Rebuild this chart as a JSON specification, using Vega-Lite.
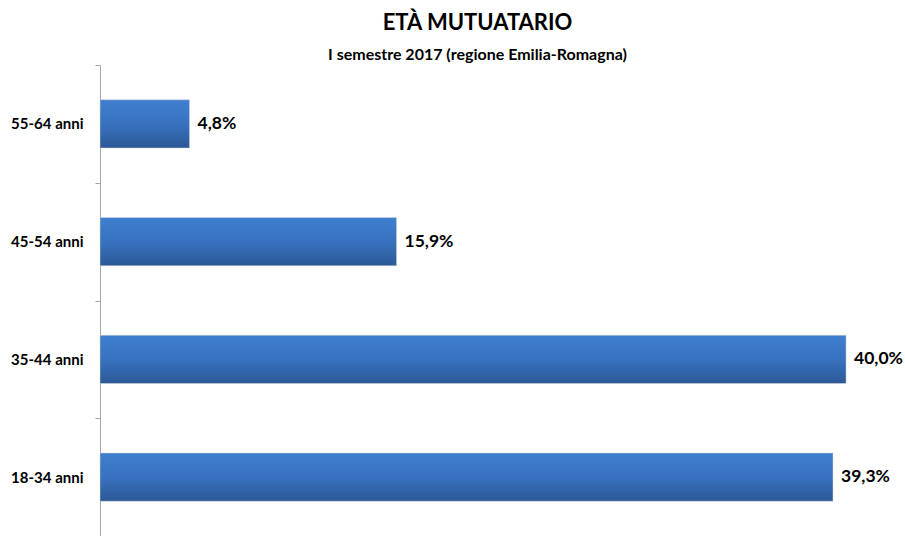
{
  "$schema": "https://vega.github.io/schema/vega-lite/v6.json",
  "autosize": "none",
  "width": 805,
  "height": 471,
  "padding": {"left": 100, "top": 65, "right": 0, "bottom": 0},
  "background": "white",
  "config": {
    "view": {"stroke": null},
    "locale": {"number": {"decimal": ",", "thousands": ".", "grouping": [3], "currency": ["€", ""]}}
  },
  "title": {
    "text": "ETÀ MUTUATARIO",
    "subtitle": "I semestre 2017 (regione Emilia-Romagna)",
    "anchor": "middle",
    "dx": -25,
    "offset": -6,
    "font": "Lato",
    "fontSize": 22,
    "fontWeight": "bold",
    "color": "#000000",
    "subtitleFont": "Lato",
    "subtitleFontSize": 16,
    "subtitleFontWeight": "bold",
    "subtitleColor": "#000000",
    "subtitlePadding": 12
  },
  "data": {
    "values": [
      {"eta": "55-64 anni", "quota": 0.048},
      {"eta": "45-54 anni", "quota": 0.159},
      {"eta": "35-44 anni", "quota": 0.400},
      {"eta": "18-34 anni", "quota": 0.393}
    ]
  },
  "encoding": {
    "y": {
      "field": "eta",
      "type": "nominal",
      "sort": null,
      "title": null,
      "scale": {"paddingInner": 0, "paddingOuter": 0},
      "axis": {
        "domainColor": "#a6a6a6",
        "tickColor": "#a6a6a6",
        "tickSize": 5,
        "tickBand": "extent",
        "labelPadding": 12,
        "labelFont": "Lato",
        "labelFontSize": 15,
        "labelFontWeight": "bold",
        "labelColor": "#000000"
      }
    },
    "x": {
      "field": "quota",
      "type": "quantitative",
      "scale": {"domain": [0, 0.4316], "nice": false},
      "axis": null
    }
  },
  "layer": [
    {
      "mark": {
        "type": "bar",
        "height": {"band": 0.41},
        "color": {
          "gradient": "linear",
          "x1": 0, "y1": 0, "x2": 0, "y2": 1,
          "stops": [
            {"offset": 0, "color": "#3f7fd0"},
            {"offset": 0.5, "color": "#3872bf"},
            {"offset": 1, "color": "#2b5896"}
          ]
        },
        "stroke": "#d9d9d9",
        "strokeWidth": 0.5
      }
    },
    {
      "mark": {
        "type": "text",
        "align": "left",
        "baseline": "middle",
        "dx": 8,
        "font": "Lato",
        "fontSize": 17.5,
        "fontWeight": "bold",
        "color": "#000000"
      },
      "encoding": {
        "text": {"field": "quota", "type": "quantitative", "format": ".1%"}
      }
    }
  ]
}
